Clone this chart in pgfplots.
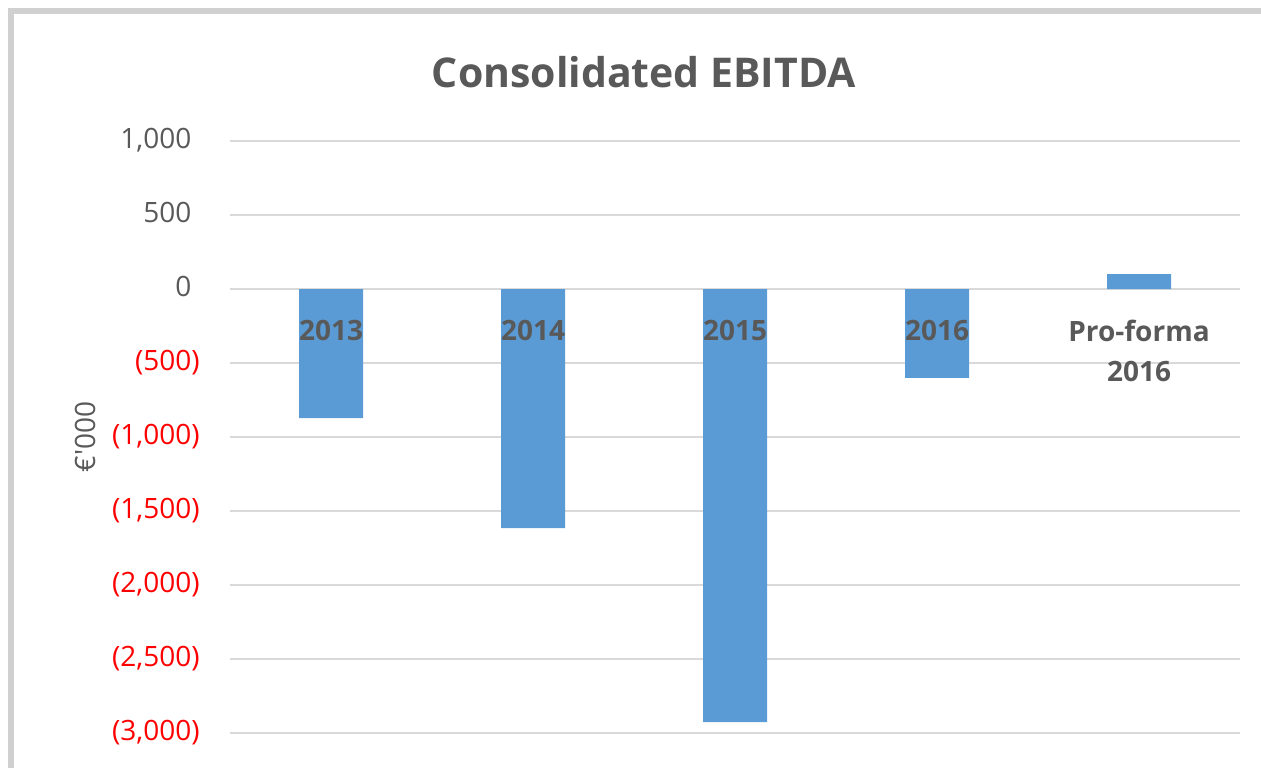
\documentclass[border=0pt]{standalone}
\usepackage{fontspec}
\setmainfont{Open Sans}
\newfontfamily\plainquote{Open Sans}[Ligatures=TeXOff]
\usepackage{pgfplots}
\pgfplotsset{compat=1.18}
\definecolor{barblue}{HTML}{5B9BD5}
\definecolor{txtgray}{HTML}{595959}
\definecolor{gridgray}{HTML}{D9D9D9}
\definecolor{framegray}{HTML}{D0D0D0}
\definecolor{negred}{HTML}{FF0000}
\begin{document}
\begin{tikzpicture}[x=1pt,y=1pt]
\useasboundingbox (0,0) rectangle (630.5,-383.5);
\draw[framegray, line width=3pt] (5.5,-400) -- (5.5,-5.5) -- (650,-5.5);
\node[txtgray, font=\fontsize{20.5}{24}\selectfont\bfseries] at (322,-36) {Consolidated EBITDA};
\node[txtgray, rotate=90, font=\fontsize{14}{17}\selectfont\plainquote] at (42.5,-218.5) {€'000};
\begin{axis}[
  at={(115pt,-366.5pt)}, anchor=south west,
  width=505pt, height=296pt, scale only axis,
  xmin=-0.5, xmax=4.5, ymin=-3000, ymax=1000,
  axis line style={draw=none},
  ymajorgrids, grid style={gridgray, line width=0.75pt},
  xtick=\empty,
  ytick={-3000,-2500,-2000,-1500,-1000,-500,0,500,1000},
  yticklabels={{\textcolor{negred}{(3,000)}},{\textcolor{negred}{(2,500)}},{\textcolor{negred}{(2,000)}},{\textcolor{negred}{(1,500)}},{\textcolor{negred}{(1,000)}},{\textcolor{negred}{(500)}},{0\phantom{)}},{500\phantom{)}},{1,000\phantom{)}}},
  major tick length=0pt,
  yticklabel style={font=\fontsize{14}{17}\selectfont, text=txtgray, anchor=east, inner sep=0pt, xshift=-15pt},
  ybar, bar width=32pt,
  clip=false,
]
\addplot[fill=barblue, draw=none] coordinates {(0,-872) (1,-1615) (2,-2926) (3,-601) (4,101)};
\foreach \i/\lab in {0/2013,1/2014,2/2015,3/2016,4/{Pro-forma\\2016}} {
  \edef\tmp{\noexpand\node[anchor=north, align=center, inner sep=0pt, text=txtgray, font=\noexpand\fontsize{14}{20}\noexpand\selectfont\noexpand\bfseries] at (axis cs:\i,-205) {\unexpanded\expandafter{\lab}};}
  \tmp
}
\end{axis}
\end{tikzpicture}
\end{document}
